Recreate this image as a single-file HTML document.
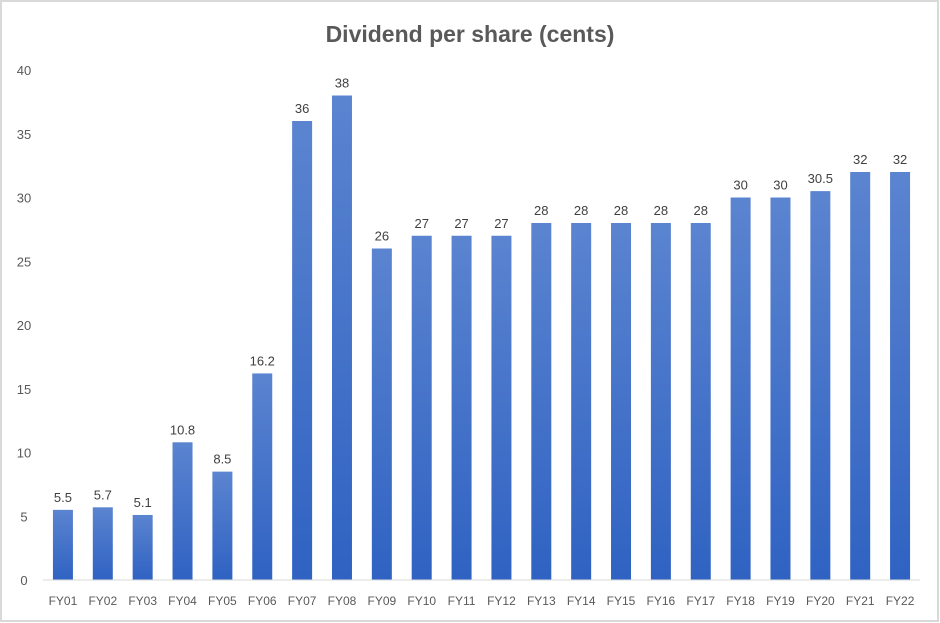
<!DOCTYPE html>
<html><head><meta charset="utf-8"><style>
body{margin:0;background:#fff;}
svg{display:block;font-family:"Liberation Sans",sans-serif;}
</style></head><body>
<svg width="940" height="623" viewBox="0 0 940 623">
<defs><linearGradient id="g" x1="0" y1="0" x2="0" y2="1"><stop offset="0" stop-color="#5b84d0"/><stop offset="1" stop-color="#2f62c2"/></linearGradient></defs>
<rect x="1" y="1" width="937" height="620" fill="#fff" stroke="#d9d9d9" stroke-width="2"/>
<text x="470" y="42" text-anchor="middle" font-size="23" font-weight="bold" fill="#595959">Dividend per share (cents)</text>
<g id="yaxis"></g><g id="bars"></g>
<line x1="43" y1="580" x2="920" y2="580" stroke="#d9d9d9" stroke-width="1"/>
</svg>
<script>
const categories=["FY01","FY02","FY03","FY04","FY05","FY06","FY07","FY08","FY09","FY10","FY11","FY12","FY13","FY14","FY15","FY16","FY17","FY18","FY19","FY20","FY21","FY22"];
const values=[5.5,5.7,5.1,10.8,8.5,16.2,36,38,26,27,27,27,28,28,28,28,28,30,30,30.5,32,32];
const yTicks=[0,5,10,15,20,25,30,35,40];
const NS="http://www.w3.org/2000/svg";
const x0=43,x1=920,yBase=580,yTop=70,yMax=40;
const bw=(x1-x0)/categories.length;
const y=v=>yBase-(yBase-yTop)*v/yMax;
const xc=i=>x0+bw*(i+0.5);
const ya=document.getElementById('yaxis'),bg=document.getElementById('bars');
function mk(tag,attrs,parent,txt){const e=document.createElementNS(NS,tag);for(const k in attrs)e.setAttribute(k,attrs[k]);if(txt!==undefined)e.textContent=txt;parent.appendChild(e);return e;}
yTicks.forEach(t=>{
 const e=mk('text',{x:24,y:y(t)+5,'text-anchor':'middle','font-size':13,fill:'#595959'},ya,String(t));
 
 
});
categories.forEach((c,i)=>{
 const v=values[i];
 const r=mk('rect',{x:xc(i)-10,y:y(v),width:20,height:yBase-y(v),fill:'url(#g)'},bg);
 
 
 const l=mk('text',{x:xc(i),y:y(v)-8,'text-anchor':'middle','font-size':13,fill:'#404040'},bg,String(v));
 
 
 const xl=mk('text',{x:xc(i),y:605,'text-anchor':'middle','font-size':12,fill:'#595959'},bg,c);
 
 
});
</script>
</body></html>
